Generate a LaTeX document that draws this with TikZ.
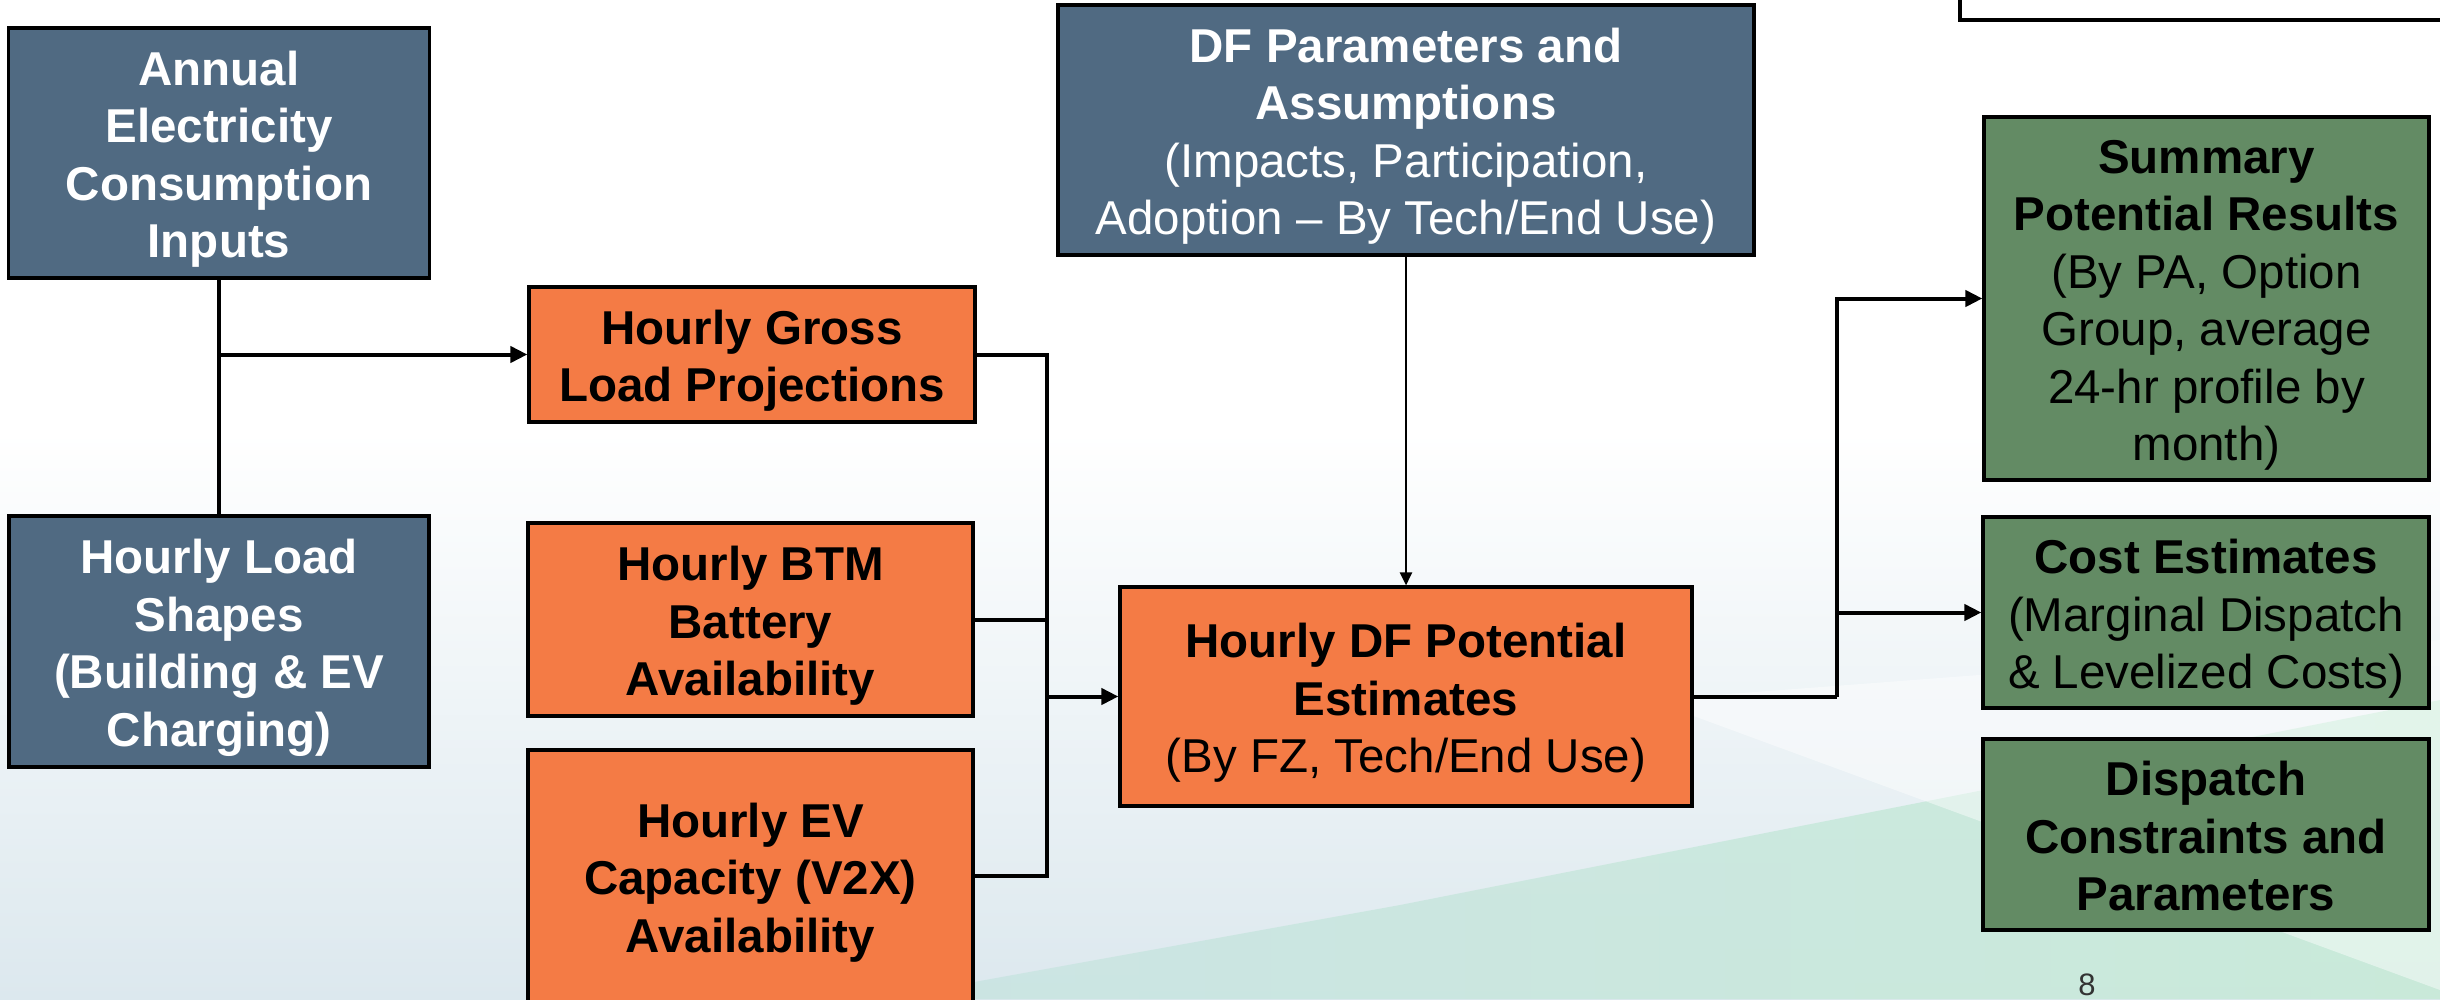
\documentclass[tikz,border=0pt]{standalone}
\usepackage{fontspec}
\setmainfont{Liberation Sans}
\usetikzlibrary{arrows.meta,calc}
\definecolor{slate}{HTML}{506A82}
\definecolor{orng}{HTML}{F47B45}
\definecolor{grn}{HTML}{638B64}
\definecolor{bgblue}{HTML}{DCE8EE}
\definecolor{bgteal}{HTML}{C9E4E2}
\definecolor{bggreen}{HTML}{C6EAD6}
\newcommand{\boxtext}[1]{\raisebox{-7pt}[\height][\depth]{\begin{tabular}{@{}c@{}}#1\end{tabular}}}
\tikzset{
  box/.style={draw=black, line width=3.2pt, inner sep=0pt,
    font=\fontsize{47.5}{57.5}\selectfont},
  slatebox/.style={box, fill=slate, text=white},
  orbox/.style={box, fill=orng, text=black},
  grbox/.style={box, fill=grn, text=black},
  conn/.style={line width=4pt, line join=miter},
  arr/.style={conn, -{Triangle[length=17pt,width=16pt]}},
  arrthin/.style={line width=2.6pt, -{Triangle[length=13pt,width=12pt]}},
}
\begin{document}
\begin{tikzpicture}[x=1pt,y=-1pt]
\useasboundingbox (0,0) rectangle (2440,999);
\clip (0,0) rectangle (2440,999);
% background
\fill[white] (0,0) rectangle (2440,999);
\shade[top color=white, bottom color=bgblue] (0,430) rectangle (2440,999);
\shade[left color=bgteal, right color=bggreen, fill opacity=0.85] (880,999) -- (1400,905) -- (2440,700) -- (2440,999) -- cycle;
\fill[white, fill opacity=0.45] (1650,700) -- (2440,990) -- (2440,640) -- cycle;
% partial box top right
\node[draw=black, line width=3.2pt, fill=white, minimum width=560pt, minimum height=90pt, inner sep=0pt] (topbox) at (2240,-25) {};
% boxes
\node[slatebox, minimum width=421pt, minimum height=250pt] (annual) at (219,153)
  {\boxtext{\bfseries Annual\\\bfseries Electricity\\\bfseries Consumption\\\bfseries Inputs}};
\node[slatebox, minimum width=420pt, minimum height=251pt] (load) at (219,641.5)
  {\boxtext{\bfseries Hourly Load\\\bfseries Shapes\\\bfseries (Building \& EV\\\bfseries Charging)}};
\node[orbox, minimum width=446pt, minimum height=135pt] (gross) at (752,354.5)
  {\boxtext{\bfseries Hourly Gross\\\bfseries Load Projections}};
\node[orbox, minimum width=445pt, minimum height=193pt] (btm) at (750.5,619.5)
  {\boxtext{\bfseries Hourly BTM\\\bfseries Battery\\\bfseries Availability}};
\node[orbox, minimum width=445pt, minimum height=252pt] (ev) at (750.5,876)
  {\boxtext{\bfseries Hourly EV\\\bfseries Capacity (V2X)\\\bfseries Availability}};
\node[slatebox, minimum width=696pt, minimum height=250pt] (dfp) at (1406,130)
  {\boxtext{\bfseries DF Parameters and\\\bfseries Assumptions\\(Impacts, Participation,\\Adoption – By Tech/End Use)}};
\node[orbox, minimum width=572pt, minimum height=219pt] (dfe) at (1406,696.5)
  {\boxtext{\bfseries Hourly DF Potential\\\bfseries Estimates\\(By FZ, Tech/End Use)}};
\node[grbox, minimum width=445pt, minimum height=363pt] (sum) at (2206.5,298.5)
  {\boxtext{\bfseries Summary\\\bfseries Potential Results\\(By PA, Option\\Group, average\\24-hr profile by\\month)}};
\node[grbox, minimum width=446pt, minimum height=191pt] (cost) at (2206,612.5)
  {\boxtext{\bfseries Cost Estimates\\(Marginal Dispatch\\\& Levelized Costs)}};
\node[grbox, minimum width=446pt, minimum height=191pt] (disp) at (2206,834.5)
  {\boxtext{\bfseries Dispatch\\\bfseries Constraints and\\\bfseries Parameters}};
\node[text=black!80, font=\fontsize{31}{36}\selectfont, inner sep=0pt] (pnum) at (2087,985) {8};
% connectors
\coordinate (j1) at (219,354.5);
\coordinate (bus) at (1047,696.5);
\coordinate (bus2) at (1837,696.5);
\draw[conn] (annual.south) -- (load.north);
\draw[arr] (j1) -- (gross.west);
\draw[conn] (gross.east) -| (bus);
\draw[conn] (ev.east) -| (bus);
\draw[conn] (btm.east) -- (btm.east -| bus);
\draw[arr] (bus) -- (dfe.west);
\draw[arrthin] (dfp.south) -- (dfe.north);
\draw[conn] (dfe.east) -- (bus2);
\draw[arr] (bus2) |- (sum.west);
\draw[arr] (bus2 |- cost.west) -- (cost.west);
\end{tikzpicture}
\end{document}
